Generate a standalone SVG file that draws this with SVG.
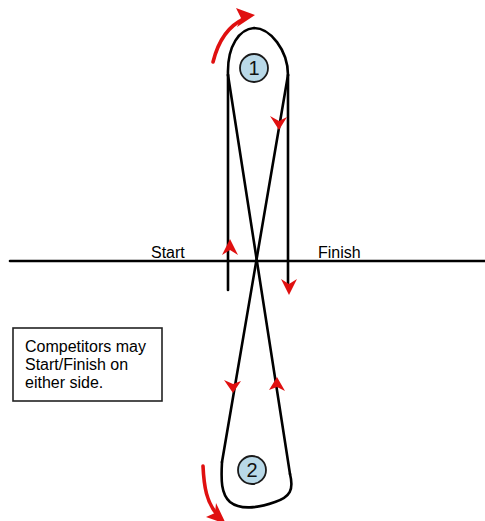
<svg xmlns="http://www.w3.org/2000/svg" width="485" height="521" viewBox="0 0 485 521">
<defs>
<style>
.ln{fill:none;stroke:#000;stroke-width:2.6;stroke-linecap:round;stroke-linejoin:round}
.red{fill:none;stroke:#e01010;stroke-width:3.6;stroke-linecap:round}
.ah{fill:#e01010;stroke:none}
.buoy{fill:#b9d9e8;stroke:#1a1a1a;stroke-width:1.8}
.lbl{font-family:"Liberation Sans",Arial,sans-serif;font-size:16px;fill:#000}
.num{font-family:"Liberation Sans",Arial,sans-serif;font-size:20px;fill:#111;text-anchor:middle}
</style>
</defs>
<rect width="485" height="521" fill="#fff"/>
<g id="connectors">
  <line class="ln" x1="10" y1="261" x2="485" y2="261"/>
  <line class="ln" x1="228" y1="75" x2="228" y2="290"/>
  <line class="ln" x1="288" y1="75" x2="288" y2="285"/>
  <line class="ln" x1="228" y1="75" x2="290" y2="474"/>
  <line class="ln" x1="288" y1="75" x2="222" y2="462"/>
  <path class="ln" d="M228,75 C227,45 240,29 254,28 C270,28 288,50 288,75"/>
  <path class="ln" d="M222,462 C221,480 221,494 230,502 C240,510 258,508 275,502 C290,497 294,490 290,474"/>
  <path class="red" d="M213,62 C218,42 228,26 244,19"/>
  <path class="ah" d="M255,15 L237,27 L241,18 L236,8 Z"/>
  <path class="red" d="M203,466 C204,488 207,502 216,513"/>
  <path class="ah" d="M226,524 L206,517 L215,513 L216,503 Z"/>
  <path class="ah" d="M230,239 L238,255 L230,250 L222,255 Z"/>
  <path class="ah" d="M289,295 L281,279 L289,284 L297,279 Z"/>
  <path class="ah" d="M279,130 L270,116 L279,121 L287,117 Z"/>
  <path class="ah" d="M233,393 L224,380 L233,384 L241,381 Z"/>
  <path class="ah" d="M277,377 L285,391 L277,387 L269,390 Z"/>
</g>
<g id="mark1">
  <circle class="buoy" cx="254" cy="68" r="14"/>
  <text class="num" x="254" y="75">1</text>
</g>
<g id="mark2">
  <circle class="buoy" cx="252" cy="470" r="14"/>
  <text class="num" x="252" y="477">2</text>
</g>
<g id="start">
  <text class="lbl" x="151" y="258">Start</text>
</g>
<g id="finish">
  <text class="lbl" x="318" y="258">Finish</text>
</g>
<g id="note">
  <rect x="13" y="328" width="149" height="73" fill="#fff" stroke="#222" stroke-width="1.6"/>
  <text class="lbl" x="25" y="352">Competitors may</text>
  <text class="lbl" x="25" y="370">Start/Finish on</text>
  <text class="lbl" x="25" y="388">either side.</text>
</g>
</svg>
